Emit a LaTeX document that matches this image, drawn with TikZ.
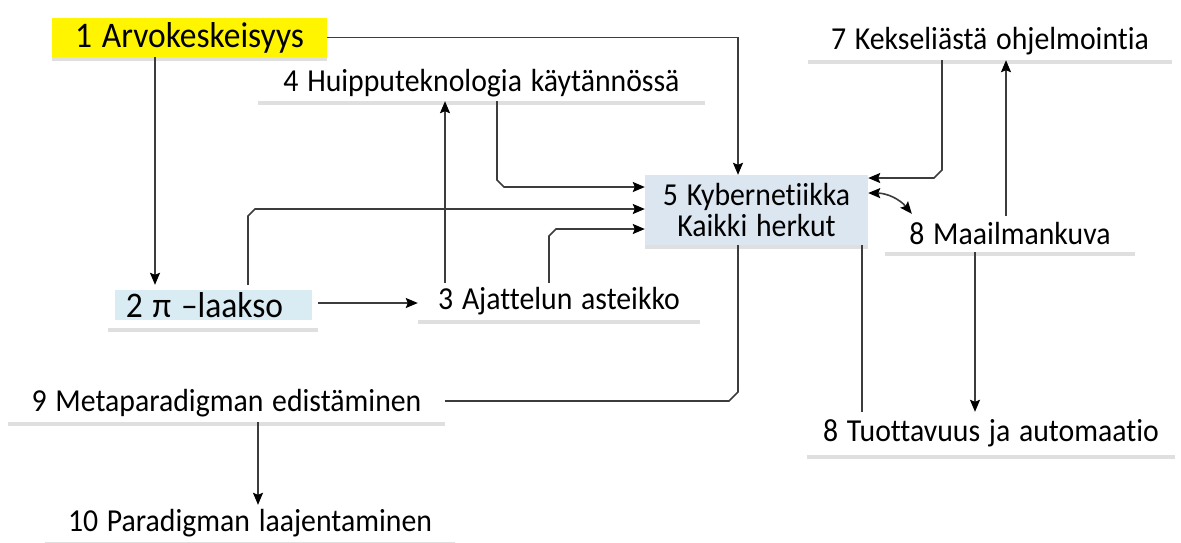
\documentclass[tikz,border=0pt]{standalone}
\usepackage{fontspec}
\setmainfont{Carlito}[Ligatures=NoCommon,FakeStretch=0.93,WordSpace=1.3]
\usetikzlibrary{arrows.meta,shadows,calc}
\definecolor{lineg}{RGB}{60,60,60}
\definecolor{kyb}{RGB}{220,230,241}
\definecolor{pib}{RGB}{218,236,243}
\definecolor{yel}{RGB}{255,245,0}
\tikzset{
  box/.style={fill=white,inner sep=0pt,drop shadow={shadow xshift=0pt,shadow yshift=-4pt,opacity=0.25,fill=gray},font=\fontsize{32}{34}\selectfont},
  conn/.style={draw=lineg,line width=1.6pt},
  tip/.tip={Stealth[length=12pt,width=10pt,inset=2pt,color=black]},
  arr/.style={conn,-tip}
}
\begin{document}
\begin{tikzpicture}[x=1pt,y=-1pt]
\useasboundingbox[fill=white] (0,0) rectangle (1181,542);
% nodes
\node[box,fill=yel,minimum width=275,minimum height=39,font=\fontsize{36}{38}\selectfont] (b1) at (189.5,37.5) {1 Arvokeskeisyys};
\node[box,minimum width=447,minimum height=35] (b4) at (481.5,83.5) {4 Huipputeknologia käytännössä};
\node[box,minimum width=364,minimum height=38] (b7) at (990,41) {7 Kekseliästä ohjelmointia};
\node[box,fill=kyb,minimum width=223,minimum height=70,align=center,font=\fontsize{32}{32}\selectfont] (b5) at (756.5,210) {5 Kybernetiikka\\Kaikki herkut};
\node[box,minimum width=250,minimum height=36] (b8m) at (1010,234) {8 Maailmankuva};
\node[box,minimum width=210,minimum height=43] (b2) at (213,306.5) {};
\node[fill=pib,inner sep=0pt,minimum width=197,minimum height=30,font=\fontsize{36}{38}\selectfont] (p2) at (213.5,305) {2 π –laakso\hspace*{18pt}};
\node[box,minimum width=282,minimum height=37] (b3) at (559,301.5) {3 Ajattelun asteikko};
\node[box,minimum width=437,minimum height=37] (b9) at (226.5,403.5) {9 Metaparadigman edistäminen};
\node[box,minimum width=410,minimum height=37] (b10) at (250,523.5) {10 Paradigman laajentaminen};
\node[box,minimum width=368,minimum height=43] (b8t) at (991,433.5) {8 Tuottavuus ja automaatio};
% connectors
\draw[arr] (155,0 |- b1.south) -- (155,0 |- b2.north);
\draw[arr] (b1.east) -- (738,0 |- b1.east) -- (738,0 |- b5.north);
\draw[arr] (497,0 |- b4.south) -- (497,180) -- (504,187) -- (b5.west |- 0,187);
\draw[arr] (248,0 |- b2.north) -- (248,216) -- (255,209) -- (b5.west |- 0,209);
\draw[arr] (549,0 |- b3.north) -- (549,236) -- (556,229) -- (b5.west |- 0,229);
\draw[arr] (445,0 |- b3.north) -- (445,0 |- b4.south);
\draw[arr] (b2.east |- 0,303) -- (b3.west |- 0,303);
\draw[conn] (738,0 |- b5.south) -- (738,392) -- (729,401) -- (b9.east |- 0,401);
\draw[arr] (258,0 |- b9.south) -- (258,0 |- b10.north);
\draw[arr] (942,0 |- b7.south) -- (942,170) -- (934,178) -- (b5.east |- 0,178);
\draw[arr] (1006,0 |- b8m.north) -- (1006,0 |- b7.south);
\draw[conn,tip-tip] (b5.east |- 0,193) to[bend left=25] ($(b8m.north west)+(27,-2)$);
\draw[conn] (862,0 |- b5.south) -- (862,0 |- b8t.north);
\draw[arr] (975,0 |- b8m.south) -- (975,0 |- b8t.north);
\end{tikzpicture}
\end{document}
